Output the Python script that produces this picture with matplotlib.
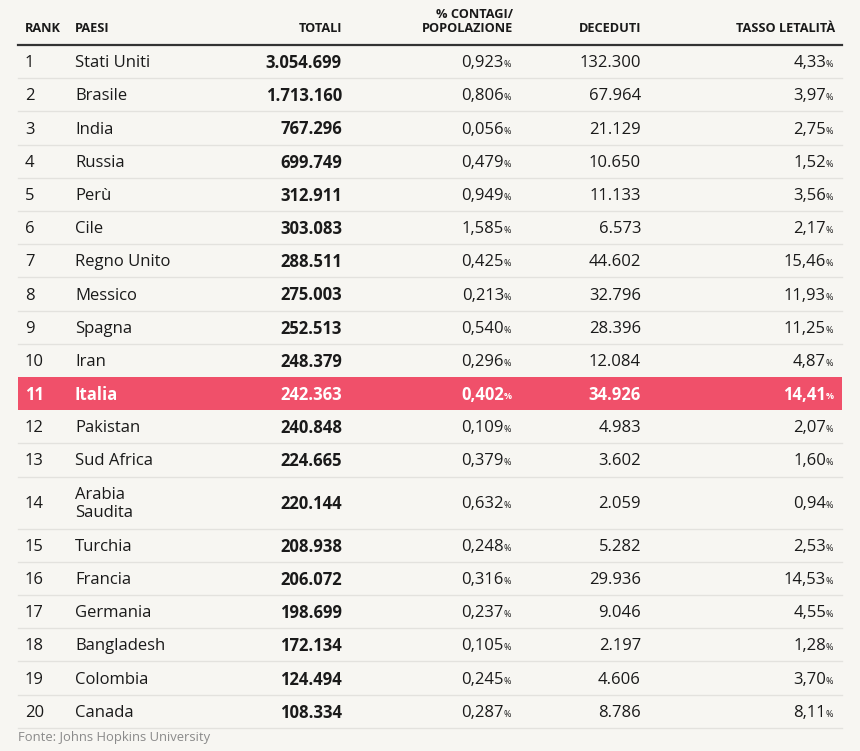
"""Tabella: primi 20 paesi per contagi (fonte Johns Hopkins University)."""

import matplotlib.pyplot as plt
from matplotlib.patches import Rectangle

# ── Dati ──────────────────────────────────────────────────────────────────
paesi = [
    "Stati Uniti", "Brasile", "India", "Russia", "Perù", "Cile", "Regno Unito",
    "Messico", "Spagna", "Iran", "Italia", "Pakistan", "Sud Africa",
    "Arabia\nSaudita", "Turchia", "Francia", "Germania", "Bangladesh",
    "Colombia", "Canada",
]
totali = [
    3054699, 1713160, 767296, 699749, 312911, 303083, 288511, 275003, 252513,
    248379, 242363, 240848, 224665, 220144, 208938, 206072, 198699, 172134,
    124494, 108334,
]
contagi_pop = [
    0.923, 0.806, 0.056, 0.479, 0.949, 1.585, 0.425, 0.213, 0.540, 0.296,
    0.402, 0.109, 0.379, 0.632, 0.248, 0.316, 0.237, 0.105, 0.245, 0.287,
]
deceduti = [
    132300, 67964, 21129, 10650, 11133, 6573, 44602, 32796, 28396, 12084,
    34926, 4983, 3602, 2059, 5282, 29936, 9046, 2197, 4606, 8786,
]
letalita = [
    4.33, 3.97, 2.75, 1.52, 3.56, 2.17, 15.46, 11.93, 11.25, 4.87,
    14.41, 2.07, 1.60, 0.94, 2.53, 14.53, 4.55, 1.28, 3.70, 8.11,
]
evidenziato = "Italia"

# ── Stile ─────────────────────────────────────────────────────────────────
BG = "#f7f6f2"
ROSSO = "#f0506a"
TESTO = "#1a1a1a"
GRIGIO = "#e3e2de"
FONT = ["Open Sans", "DejaVu Sans"]
plt.rcParams["font.family"] = FONT

W, H = 860, 751
X0, X1 = 18, 842
COL_RANK, COL_PAESE = 25, 75
COL_TOT, COL_PCT, COL_DEC, COL_LET = 342, 513, 641, 835
Y_HEADER = 45
ROW_H, ROW_H2 = 33.2, 52
FS = 12
DY = 1.5  # piccolo spostamento verso il basso del testo


def fmt_int(v):
    return f"{v:,}".replace(",", ".")


def fmt_dec(v, n):
    return f"{v:.{n}f}".replace(".", ",")


def testo_pct(ax, x, y, num, color, weight):
    ax.text(x - 9, y, num, ha="right", va="center", fontsize=FS,
            color=color, fontweight=weight)
    ax.text(x - 9, y + 1.5, "%", ha="left", va="center", fontsize=6.5,
            color=color, fontweight=weight)


def main():
    fig = plt.figure(figsize=(W / 100, H / 100), dpi=100, facecolor=BG)
    ax = fig.add_axes([0, 0, 1, 1])
    ax.set_xlim(0, W)
    ax.set_ylim(H, 0)
    ax.axis("off")
    ax.set_facecolor(BG)

    # intestazione
    hdr = dict(fontsize=9.2, fontweight="bold", color=TESTO, va="center")
    ax.text(COL_RANK, 29, "RANK", ha="left", **hdr)
    ax.text(COL_PAESE, 29, "PAESI", ha="left", **hdr)
    ax.text(COL_TOT, 29, "TOTALI", ha="right", **hdr)
    ax.text(COL_PCT, 14, "% CONTAGI/", ha="right", **hdr)
    ax.text(COL_PCT, 29, "POPOLAZIONE", ha="right", **hdr)
    ax.text(COL_DEC, 29, "DECEDUTI", ha="right", **hdr)
    ax.text(COL_LET, 29, "TASSO LETALITÀ", ha="right", **hdr)
    ax.plot([X0, X1], [Y_HEADER, Y_HEADER], color="#333333", lw=1.6)

    y = Y_HEADER
    for i, paese in enumerate(paesi):
        h = ROW_H2 if "\n" in paese else ROW_H
        yc = y + h / 2 + DY
        hl = paese == evidenziato
        if hl:
            ax.add_patch(Rectangle((X0, y + 0.5), X1 - X0, h - 1,
                                   facecolor=ROSSO, edgecolor="none"))
        color = "white" if hl else TESTO
        w_body = "bold" if hl else "normal"
        ax.text(COL_RANK, yc, str(i + 1), ha="left", va="center",
                fontsize=FS, color=color, fontweight=w_body)
        ax.text(COL_PAESE, yc, paese, ha="left", va="center", fontsize=FS,
                color=color, fontweight=w_body, linespacing=1.2)
        ax.text(COL_TOT, yc, fmt_int(totali[i]), ha="right", va="center",
                fontsize=FS, color=color, fontweight="bold")
        testo_pct(ax, COL_PCT, yc, fmt_dec(contagi_pop[i], 3), color, w_body)
        ax.text(COL_DEC, yc, fmt_int(deceduti[i]), ha="right", va="center",
                fontsize=FS, color=color, fontweight=w_body)
        testo_pct(ax, COL_LET, yc, fmt_dec(letalita[i], 2), color, w_body)
        y += h
        if not hl and paesi[min(i + 1, len(paesi) - 1)] != evidenziato:
            ax.plot([X0, X1], [y, y], color=GRIGIO, lw=1)

    ax.text(X0, 737, "Fonte: Johns Hopkins University", ha="left",
            va="center", fontsize=9.4, color="#8a8a8a")

    fig.savefig("out.png", dpi=100, facecolor=BG)
    plt.close(fig)


if __name__ == "__main__":
    main()
